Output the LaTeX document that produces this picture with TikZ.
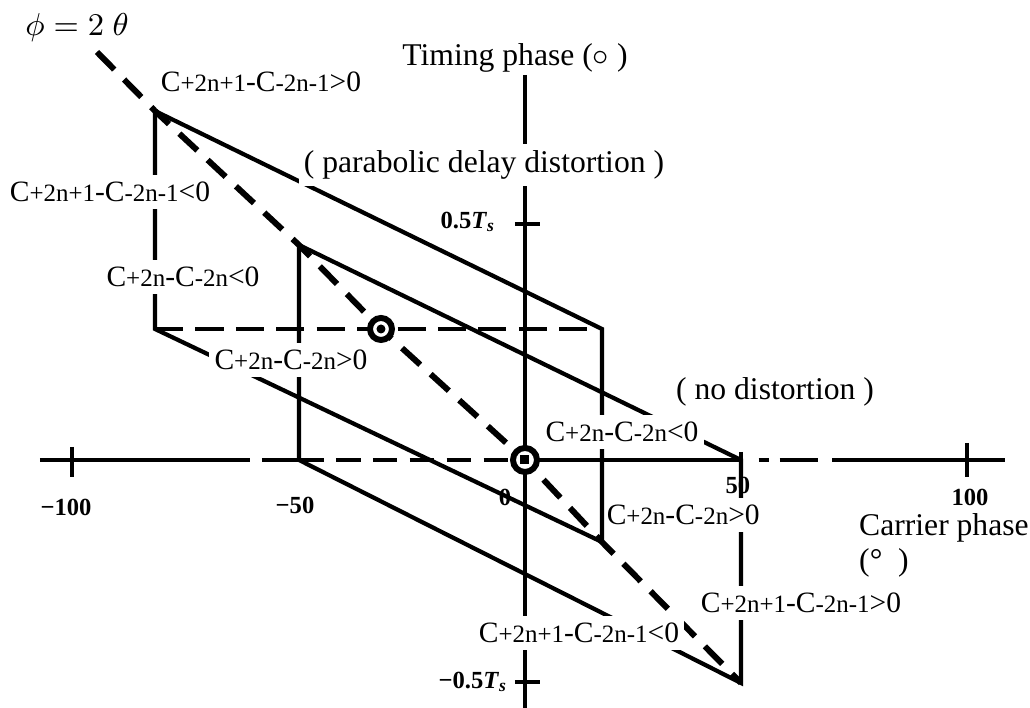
\documentclass[tikz,border=0pt]{standalone}
\usepackage{fontspec}
\setmainfont{Liberation Serif}
\usepackage{tikz}
\newcommand{\sbs}[1]{{\fontsize{7.1}{8}\selectfont #1}}
\tikzset{
  axis/.style={line width=1.4pt},
  edge/.style={line width=1.2pt},
  phaseline/.style={line width=1.7pt, dash pattern=on 7pt off 4pt},
  splitline/.style={line width=1.3pt, dash pattern=on 8pt off 3.5pt},
  cond/.style={font=\fontsize{8.4}{9}\selectfont, inner sep=1pt},
  cut/.style={fill=white, inner xsep=1.5pt, inner ysep=2pt},
  caption/.style={font=\fontsize{9}{10.5}\selectfont, inner sep=1pt},
  ticklab/.style={font=\fontsize{7}{8}\selectfont\bfseries, inner sep=1pt},
  ring/.style={circle, draw, line width=1.7pt, fill=white, inner sep=0pt, minimum size=0.22cm},
}

\begin{document}
\begin{tikzpicture}[x=1cm,y=1cm]
  \useasboundingbox (-5.25,-2.48) rectangle (5.05,4.60);

  % points on phi = 2 theta
  \coordinate (d0) at (-4.28,4.08);
  \coordinate (p1) at (-3.70,3.49);
  \coordinate (p2) at (-2.26,2.15);
  \coordinate (m) at (-1.44,1.31);
  \coordinate (o) at (0,0);
  \coordinate (s2) at (0.77,-0.82);
  \coordinate (t) at (2.16,-2.23);
  % remaining corners
  \coordinate (q1) at (-3.70,1.31);
  \coordinate (q2) at (0.77,1.31);
  \coordinate (r2) at (-2.26,0);
  \coordinate (s1) at (2.16,0);
  % axis ends
  \coordinate (xl) at (-4.85,0);
  \coordinate (xr) at (4.80,0);
  \coordinate (yt) at (0,3.85);
  \coordinate (yb) at (0,-2.48);

  % axes
  \draw[axis] (xl) -- (-2.75,0) (-2.63,0) -- (r2);
  \draw[axis, dash pattern=on 7pt off 3.5pt] (r2) -- (o);
  \draw[axis] (o) -- (s1);
  \draw[axis, dash pattern=on 3pt off 3pt on 11pt off 4pt on 60pt off 5pt, dash phase=81pt] (s1) -- (xr);
  \draw[axis] (yt) -- (yb);

  % ticks
  \draw[axis] (-4.53,0.13) -- (-4.53,-0.17);
  \draw[axis] (4.42,0.17) -- (4.42,-0.17);
  \draw[axis] (2.16,0.08) -- (s1);
  \draw[axis] (-0.10,2.36) -- (0.15,2.36);
  \draw[axis] (-0.10,-2.22) -- (0.15,-2.22);

  % two parallelograms
  \draw[edge] (p1) -- (q2) -- (s2) -- (q1) -- cycle;
  \draw[edge] (p2) -- (s1) -- (t) -- (r2) -- cycle;
  \draw[splitline] (q1) -- (q2);
  \draw[phaseline] (d0) -- (p1) -- (p2) -- (m) -- (o) -- (s2) -- (t);

  % markers
  \node[ring] (mk1) at (m) {};
  \node[circle, fill, inner sep=0pt, minimum size=0.09cm] (dot) at (m) {};
  \node[ring, minimum size=0.24cm] (mk0) at (o) {};
  \node[fill, inner sep=0pt, minimum size=0.09cm] (sq) at (o) {};

  % conditions
  \node[cond] (hi1) at (-2.64,3.78) {C\sbs{+2n+1}-C\sbs{-2n-1}>0};
  \node[cond, cut] (lo1) at (-4.15,2.68) {C\sbs{+2n+1}-C\sbs{-2n-1}<0};
  \node[cond, cut] (lo2) at (-3.42,1.83) {C\sbs{+2n}-C\sbs{-2n}<0};
  \node[cond, cut] (lo3) at (-2.34,1.00) {C\sbs{+2n}-C\sbs{-2n}>0};
  \node[cond, cut] (ro1) at (0.97,0.28) {C\sbs{+2n}-C\sbs{-2n}<0};
  \node[cond, cut, inner xsep=0.3pt, anchor=west] (ro2) at (0.80,-0.55) {C\sbs{+2n}-C\sbs{-2n}>0};
  \node[cond, cut] (ro3) at (2.76,-1.43) {C\sbs{+2n+1}-C\sbs{-2n-1}>0};
  \node[cond, cut] (bo1) at (0.54,-1.73) {C\sbs{+2n+1}-C\sbs{-2n-1}<0};

  % captions
  \node[caption, font=\fontsize{9.5}{11}\selectfont] (phi) at (-4.48,4.32) {$\phi = 2\ \theta$};
  \node[caption] (ylab) at (-0.10,4.02) {Timing phase ($\circ$ )};
  \node[caption, cut] (para) at (-0.41,2.95) {( parabolic delay distortion )};
  \node[caption, anchor=west] (nodist) at (1.47,0.68) {( no distortion )};
  \node[caption, anchor=west] (xlab) at (3.30,-0.68) {Carrier phase};
  \node[caption, anchor=west] (xunit) at (3.30,-1.03) {(°\ \ )};

  % tick labels
  \node[ticklab] (tm100) at (-4.59,-0.47) {−100};
  \node[ticklab] (tm50) at (-2.30,-0.45) {−50};
  \node[ticklab] (t0) at (-0.20,-0.37) {0};
  \node[ticklab] (t50) at (2.13,-0.25) {50};
  \node[ticklab] (t100) at (4.45,-0.37) {100};
  \node[ticklab, anchor=east] (tp) at (-0.25,2.38) {0.5\textit{T}\textsubscript{\textit{s}}};
  \node[ticklab, anchor=east] (tn) at (-0.13,-2.22) {−0.5\textit{T}\textsubscript{\textit{s}}};
\end{tikzpicture}
\end{document}
